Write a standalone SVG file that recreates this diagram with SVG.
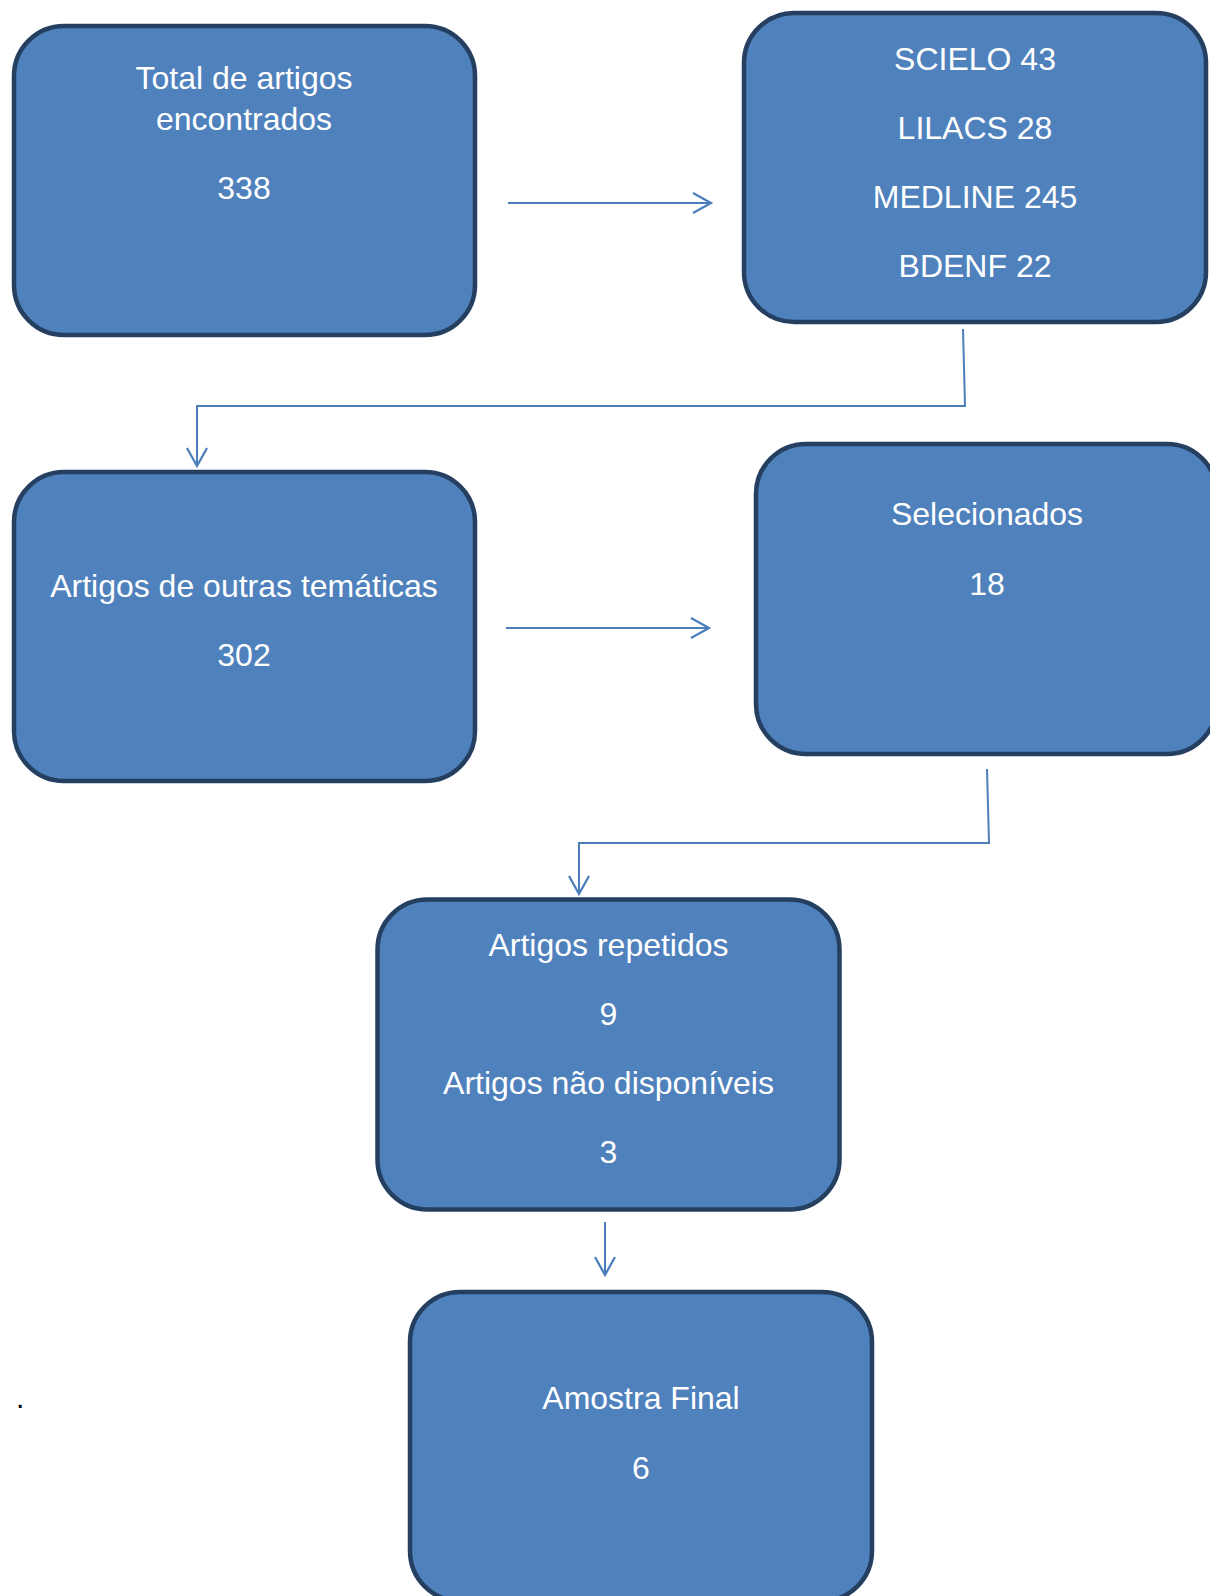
<svg xmlns="http://www.w3.org/2000/svg" width="1210" height="1596" viewBox="0 0 1210 1596">
<style>
.box{fill:#4F81BD;stroke:#243F60;stroke-width:4.5}
.t{font-family:"Liberation Sans",Arial,sans-serif;font-size:32px;fill:#FFFFFF;text-anchor:middle}
.c{fill:none;stroke:#4A7EBB;stroke-width:2;marker-end:url(#arr)}
</style>
<defs>
<marker id="arr" viewBox="-22 -12 26 24" refX="0" refY="0" markerWidth="26" markerHeight="24" markerUnits="userSpaceOnUse" orient="auto">
<path d="M-18,-10 L0,0 L-18,10" fill="none" stroke="#4A7EBB" stroke-width="2.25"/>
</marker>
</defs>
<rect width="1210" height="1596" fill="#FFFFFF"/>
<g id="connectors">
<path class="c" d="M508,203 L711,203"/>
<path class="c" d="M963,329 L965,406 L197,406 L197,466"/>
<path class="c" d="M506,628 L709,628"/>
<path class="c" d="M987,769 L989,843 L579,843 L579,894"/>
<path class="c" d="M605,1222 L605,1275"/>
</g>
<g id="n1">
<rect class="box" x="14" y="26" width="461" height="309" rx="50" ry="50"/>
<text class="t" x="244" y="88.5">Total de artigos</text>
<text class="t" x="244" y="129.5">encontrados</text>
<text class="t" x="244" y="198.5">338</text>
</g>
<g id="n2">
<rect class="box" x="744" y="13" width="462" height="309" rx="50" ry="50"/>
<text class="t" x="975" y="69.5">SCIELO 43</text>
<text class="t" x="975" y="138.5">LILACS 28</text>
<text class="t" x="975" y="207.5">MEDLINE 245</text>
<text class="t" x="975" y="276.5">BDENF 22</text>
</g>
<g id="n3">
<rect class="box" x="14" y="472" width="461" height="309" rx="50" ry="50"/>
<text class="t" x="244" y="596.5">Artigos de outras temáticas</text>
<text class="t" x="244" y="665.5">302</text>
</g>
<g id="n4">
<rect class="box" x="756" y="444" width="461" height="310" rx="50" ry="50"/>
<text class="t" x="987" y="524.5">Selecionados</text>
<text class="t" x="987" y="594.5">18</text>
</g>
<g id="n5">
<rect class="box" x="377.5" y="899.5" width="462" height="310" rx="50" ry="50"/>
<text class="t" x="608.5" y="955.5">Artigos repetidos</text>
<text class="t" x="608.5" y="1024.5">9</text>
<text class="t" x="608.5" y="1093.5">Artigos não disponíveis</text>
<text class="t" x="608.5" y="1162.5">3</text>
</g>
<g id="n6">
<rect class="box" x="410" y="1292" width="462" height="309" rx="50" ry="50"/>
<text class="t" x="641" y="1408.5">Amostra Final</text>
<text class="t" x="641" y="1478.5">6</text>
</g>
<text x="16" y="1408" font-family="Liberation Sans, Arial, sans-serif" font-size="30" fill="#000000">.</text>
</svg>
